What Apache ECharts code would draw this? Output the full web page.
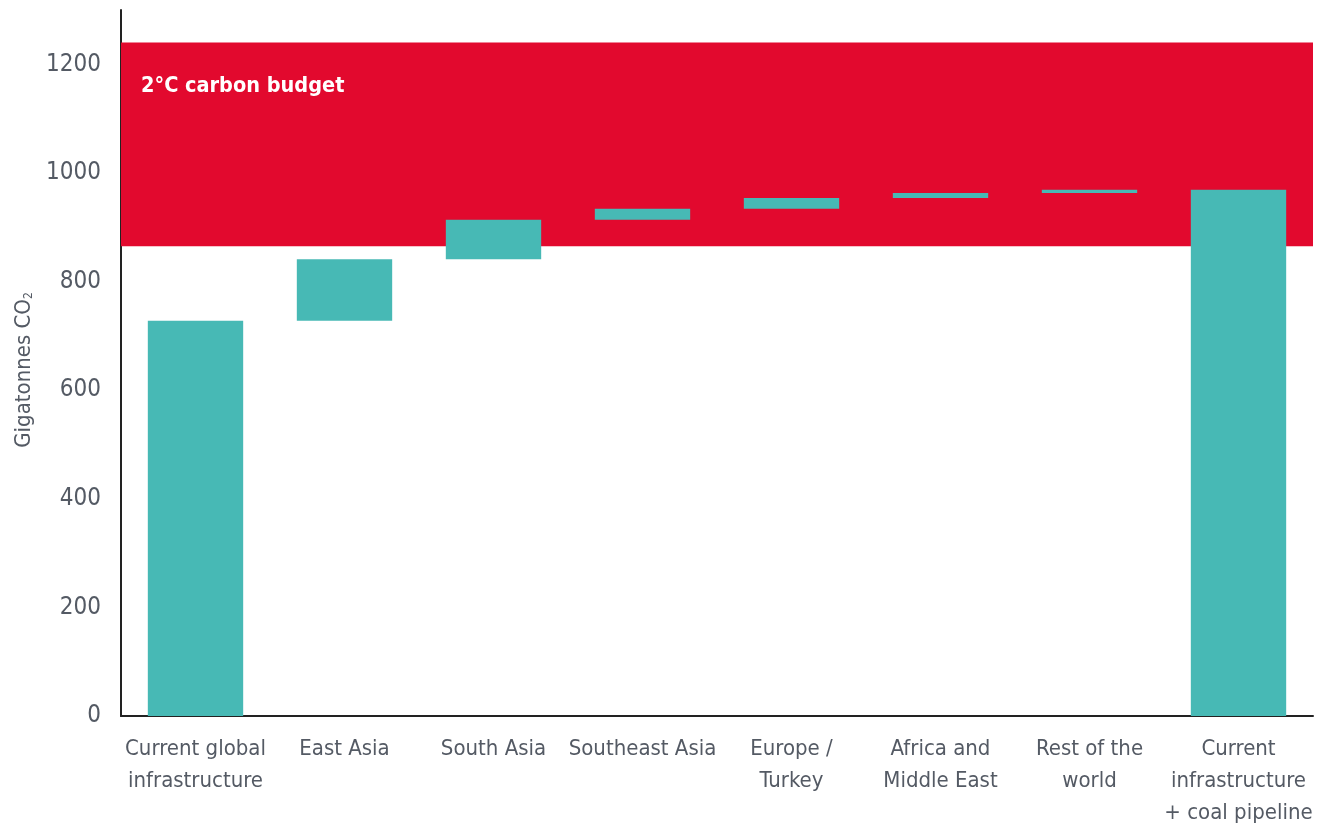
<!DOCTYPE html>
<html>
<head>
<meta charset="utf-8">
<script src="https://cdn.jsdelivr.net/npm/echarts@6/dist/echarts.min.js"></script>
<style>
html,body{margin:0;padding:0;background:#fff;overflow:hidden;}
#chart{width:1322px;height:829px;}
</style>
</head>
<body>
<div id="chart"></div>
<script>
const categories = ['Current global\ninfrastructure', 'East Asia', 'South Asia', 'Southeast Asia', 'Europe /\nTurkey', 'Africa and\nMiddle East', 'Rest of the\nworld', 'Current\ninfrastructure\n+ coal pipeline'];
// first value is the starting total; the rest are regional additions
const increments = [728, 113, 73, 20, 20, 9, 6];
const budgetRange = [865, 1240];
const budgetLabel = '2°C carbon budget';
const yTicks = [0, 200, 400, 600, 800, 1000, 1200];

const FONT = "'DejaVu Sans Condensed', 'Liberation Sans Narrow', sans-serif";
const TEXT = '#545a64';
const TEAL = '#47b9b5';
const RED = '#e2092e';

const base = [], visible = [];
let run = 0;
increments.forEach((v, i) => {
  base.push(i === 0 ? 0 : run);
  visible.push(v);
  run += v;
});
base.push(0);
visible.push(run);

const chart = echarts.init(document.getElementById('chart'));
chart.setOption({
  animation: false,
  grid: {left: 121, right: 9, top: 10, bottom: 107, containLabel: false},
  xAxis: {
    type: 'category',
    data: categories,
    axisLine: {lineStyle: {color: '#222', width: 2}},
    axisTick: {show: false},
    axisLabel: {interval: 0, color: TEXT, fontFamily: FONT, fontSize: 22, lineHeight: 32, margin: 17}
  },
  yAxis: {
    type: 'value',
    min: 0, max: 1300, interval: 200,
    name: '{a|Gigatonnes CO}{b|2}',
    nameLocation: 'middle',
    nameGap: 86,
    nameRotate: 90,
    nameTextStyle: {
      rich: {
        a: {fontFamily: FONT, fontSize: 22, color: TEXT},
        b: {fontFamily: FONT, fontSize: 12, color: TEXT, verticalAlign: 'bottom', padding: [8, 14, 0, 0]}
      }
    },
    axisLine: {show: true, lineStyle: {color: '#222', width: 2}},
    axisTick: {show: false},
    splitLine: {show: false},
    axisLabel: {
      color: TEXT, fontFamily: FONT, fontSize: 24, margin: 20, showMaxLabel: false,
      formatter: v => yTicks.includes(v) ? String(v) : ''
    }
  },
  series: [
    {
      type: 'bar', stack: 'w', barWidth: '64%',
      itemStyle: {color: 'transparent'},
      data: base,
      silent: true,
      markArea: {
        silent: true,
        itemStyle: {color: RED},
        label: {
          show: true, position: 'insideTopLeft', color: '#fff',
          fontFamily: FONT, fontWeight: 'bold', fontSize: 21.5,
          offset: [15, 28]
        },
        data: [[{yAxis: budgetRange[0], name: budgetLabel}, {yAxis: budgetRange[1]}]]
      }
    },
    {
      type: 'bar', stack: 'w', barWidth: '64%',
      itemStyle: {color: TEAL},
      data: visible,
      z: 5
    }
  ]
});
</script>
</body>
</html>
